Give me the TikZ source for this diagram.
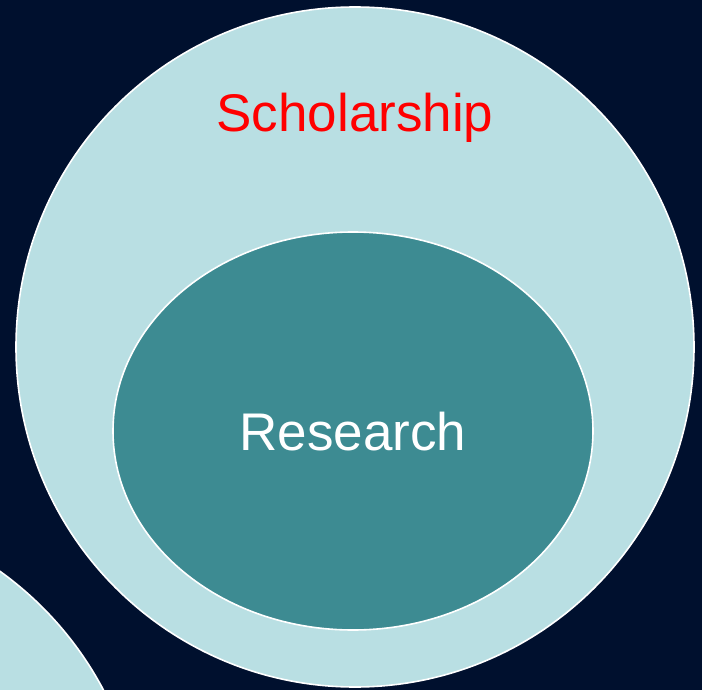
\documentclass[tikz,border=0pt]{standalone}
\usepackage{tikz}
\usepackage{xcolor}
\usepackage{fontspec}
\setmainfont{Liberation Sans}
\definecolor{navybg}{RGB}{0, 16, 46}
\definecolor{bluehue1}{RGB}{185, 223, 227}
\definecolor{tealhue}{RGB}{61, 139, 146}

\begin{document}
\begin{tikzpicture}[x=1pt, y=-1pt]
    \useasboundingbox (0,0) rectangle (702,690);
    \clip (0,0) rectangle (702,690);
    \fill[navybg] (0,0) rectangle (702,690);
    \draw[white, line width=1.6pt, fill=bluehue1]
        (-200,850) circle [radius=343pt];
    \draw[white, line width=1.6pt, fill=bluehue1]
        (355,347) ellipse [x radius=339pt, y radius=340pt];
    \draw[white, line width=1.6pt, fill=tealhue]
        (353,431) ellipse [x radius=240pt, y radius=199pt];
    \node[text=red, font=\fontsize{53}{60}\selectfont] (scholarship)
        at (355,118) {Scholarship};
    \node[text=white, font=\fontsize{53}{60}\selectfont] (research)
        at (353,432) {Research};
\end{tikzpicture}
\end{document}
